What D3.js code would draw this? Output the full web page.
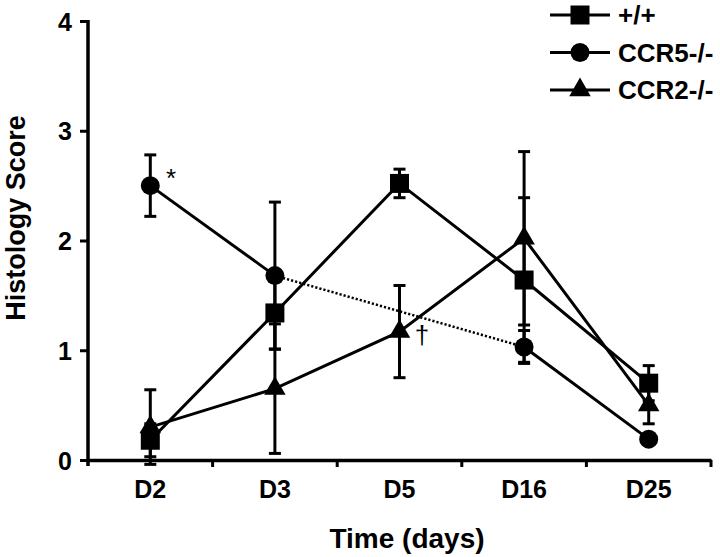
<!DOCTYPE html>
<html>
<head>
<meta charset="utf-8">
<script src="https://cdn.jsdelivr.net/npm/d3@7"></script>
<style>
  html, body { margin: 0; padding: 0; background: #fff; }
  svg { display: block; }
  text { font-family: "Liberation Sans", Arial, Helvetica, sans-serif; font-weight: bold; fill: #000; }
</style>
</head>
<body>
<svg id="chart" width="720" height="557"></svg>
<script>
const categories = ["D2", "D3", "D5", "D16", "D25"];
const yTicks = [0, 1, 2, 3, 4];
const seriesNames = ["+/+", "CCR5-/-", "CCR2-/-"];
const wtValues = [0.18, 1.34, 2.52, 1.64, 0.70];
const wtErrors = [0.15, 0.33, 0.13, 0.75, 0.16];
const ccr5Values = [2.50, 1.68, null, 1.03, 0.19];
const ccr5Errors = [0.28, 0.67, null, 0.15, 0.03];
const ccr2Values = [0.30, 0.65, 1.17, 2.02, 0.50];
const ccr2Errors = [0.34, 0.59, 0.42, 0.79, 0.17];

const svg = d3.select("#chart");
const x = d3.scaleBand().domain(categories).range([88, 711]).padding(0);
const y = d3.scaleLinear().domain([0, 4]).range([460, 21]);
const cx = c => x(c) + x.bandwidth() / 2;

const symbols = {
  square: d3.symbol().type(d3.symbolSquare).size(19 * 19),
  circle: d3.symbol().type(d3.symbolCircle).size(Math.PI * 9.5 * 9.5),
  triangle: d3.symbol().type(d3.symbolTriangle).size(200)
};

const series = [
  { name: seriesNames[0], values: wtValues, errors: wtErrors, sym: "square" },
  { name: seriesNames[1], values: ccr5Values, errors: ccr5Errors, sym: "circle" },
  { name: seriesNames[2], values: ccr2Values, errors: ccr2Errors, sym: "triangle" }
];

// Y axis
const yAxis = svg.append("g").attr("transform", "translate(88,0)")
  .call(d3.axisLeft(y).tickValues(yTicks).tickFormat(d3.format("d")).tickSize(8).tickSizeOuter(0).tickPadding(8));
yAxis.select(".domain").attr("stroke", "#000").attr("stroke-width", 3.5);
yAxis.selectAll(".tick line").attr("stroke", "#000").attr("stroke-width", 3);
yAxis.selectAll(".tick text").style("font-size", "25px").attr("dy", "0.36em");
yAxis.select(".domain").attr("d", `M0,${y(4) - 1}V${y(0) + 6}`);

// X axis
const xAxis = svg.append("g").attr("transform", `translate(0,${y(0)})`)
  .call(d3.axisBottom(x).tickSize(0).tickSizeOuter(0).tickPadding(20));
xAxis.select(".domain").attr("stroke", "#000").attr("stroke-width", 3.5);
xAxis.selectAll(".tick text").style("font-size", "25px").attr("dy", "0.71em");
xAxis.selectAll(".edge").data(categories).enter().append("line")
  .attr("x1", d => x(d) + x.bandwidth()).attr("x2", d => x(d) + x.bandwidth())
  .attr("y1", 0).attr("y2", 7).attr("stroke", "#000").attr("stroke-width", 3);

// Axis titles
svg.append("text").attr("x", 407).attr("y", 548).attr("text-anchor", "middle")
  .style("font-size", "28px").text("Time (days)");
svg.append("text").attr("transform", "translate(25,218) rotate(-90)").attr("text-anchor", "middle")
  .style("font-size", "27px").text("Histology Score");

const plot = svg.append("g");
const line = d3.line().x(d => cx(d.c)).y(d => y(d.v));

// Lines
series.forEach((s, si) => {
  const pts = categories.map((c, i) => ({ c, v: s.values[i] }));
  if (si === 1) {
    const valid = pts.filter(p => p.v !== null);
    plot.append("path").attr("d", line([valid[0], valid[1]])).attr("fill", "none").attr("stroke", "#000").attr("stroke-width", 3);
    plot.append("path").attr("d", line([valid[1], valid[2]])).attr("fill", "none").attr("stroke", "#000").attr("stroke-width", 2.5).attr("stroke-dasharray", "2.2,2");
    plot.append("path").attr("d", line([valid[2], valid[3]])).attr("fill", "none").attr("stroke", "#000").attr("stroke-width", 3);
  } else {
    plot.append("path").attr("d", line(pts)).attr("fill", "none").attr("stroke", "#000").attr("stroke-width", 3);
  }
});

// Error bars
series.forEach(s => {
  categories.forEach((c, i) => {
    const v = s.values[i], e = s.errors[i];
    if (v === null || e === null) return;
    const xx = cx(c);
    const g = plot.append("g").attr("stroke", "#000").attr("stroke-width", 3);
    g.append("line").attr("x1", xx).attr("x2", xx).attr("y1", y(v - e)).attr("y2", y(v + e));
    g.append("line").attr("x1", xx - 6).attr("x2", xx + 6).attr("y1", y(v + e)).attr("y2", y(v + e));
    g.append("line").attr("x1", xx - 6).attr("x2", xx + 6).attr("y1", y(v - e)).attr("y2", y(v - e));
  });
});

// Markers
series.forEach(s => {
  categories.forEach((c, i) => {
    const v = s.values[i];
    if (v === null) return;
    plot.append("path").attr("d", symbols[s.sym]())
      .attr("transform", `translate(${cx(c)},${y(v)})`).attr("fill", "#000");
  });
});

// Significance marks
plot.append("text").attr("x", 171).attr("y", 187).attr("text-anchor", "middle")
  .style("font-size", "26px").style("font-weight", "normal").text("*");
plot.append("text").attr("x", 422).attr("y", 344).attr("text-anchor", "middle")
  .style("font-size", "26px").style("font-weight", "normal").text("†");

// Legend
const legend = svg.append("g");
const rowY = [15, 52.5, 90];
series.forEach((s, i) => {
  const g = legend.append("g").attr("transform", `translate(0,${rowY[i]})`);
  g.append("line").attr("x1", 550).attr("x2", 610).attr("y1", 0).attr("y2", 0).attr("stroke", "#000").attr("stroke-width", 3);
  g.append("path").attr("d", symbols[s.sym]()).attr("transform", "translate(580,0)").attr("fill", "#000");
  g.append("text").attr("x", 618).attr("y", 9).style("font-size", "26px").text(s.name);
});
</script>
</body>
</html>
